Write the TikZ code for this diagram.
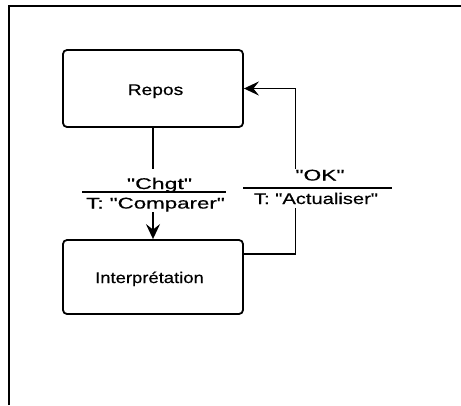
\documentclass[tikz,border=0pt]{standalone}
\usepackage{fontspec}
\usepackage{graphicx}
\newfontfamily\lab{Liberation Sans}[FakeBold=0.4]
\usetikzlibrary{arrows.meta,calc}
\newcommand\sx[2]{\scalebox{#1}[1]{#2}}
\tikzset{
  box/.style={draw, line width=1.8pt, rounded corners=4pt, minimum width=180pt, inner sep=0pt},
  conn/.style={line width=1.8pt},
  tip/.style={-{Stealth[length=15pt,width=14pt,inset=5.5pt]}},
  txt/.style={anchor=base, inner sep=0pt, font=\lab\fontsize{15.5}{18}\selectfont},
}
\begin{document}
\begin{tikzpicture}[x=1pt,y=-1pt]
\useasboundingbox (0,0) rectangle (461,405);
% frame
\draw[line width=2pt] (8.5,405) -- (8.5,6) -- (461,6);
% boxes
\node[box, minimum height=77pt] (rep) at (153,88.5) {};
\node[box, minimum height=74pt] (int) at (153,277) {};
\node[txt] (rept) at (155.5,95) {\sx{1.24}{Repos}};
\node[txt] (intt) at (149.5,283) {\sx{1.19}{Interprétation}};
% down transition
\coordinate (l1) at (153,169);
\coordinate (l2) at (153,212);
\draw[conn] (rep.south) -- (l1);
\draw[conn,tip] (l2) -- (int.north);
\coordinate (ra) at (82,192);
\coordinate (rb) at (226,192);
\draw[conn] (ra) -- (rb);
\node[txt] (chg) at (159.5,189) {\sx{1.49}{"Chgt"}};
\node[txt] (cmp) at (155.5,208.5) {\sx{1.44}{T: "Comparer"}};
% return transition
\coordinate (r1) at (295.5,208);
\coordinate (r2) at (295.5,169);
\draw[conn] ([yshift=23pt]int.east) -| (r1);
\draw[conn,tip] (r2) |- (rep.east);
\coordinate (sa) at (243,188);
\coordinate (sb) at (392,188);
\draw[conn] (sa) -- (sb);
\node[txt] (ok) at (320,180.5) {\sx{1.47}{"OK"}};
\node[txt] (act) at (316,204) {\sx{1.30}{T: "Actualiser"}};
\end{tikzpicture}
\end{document}
